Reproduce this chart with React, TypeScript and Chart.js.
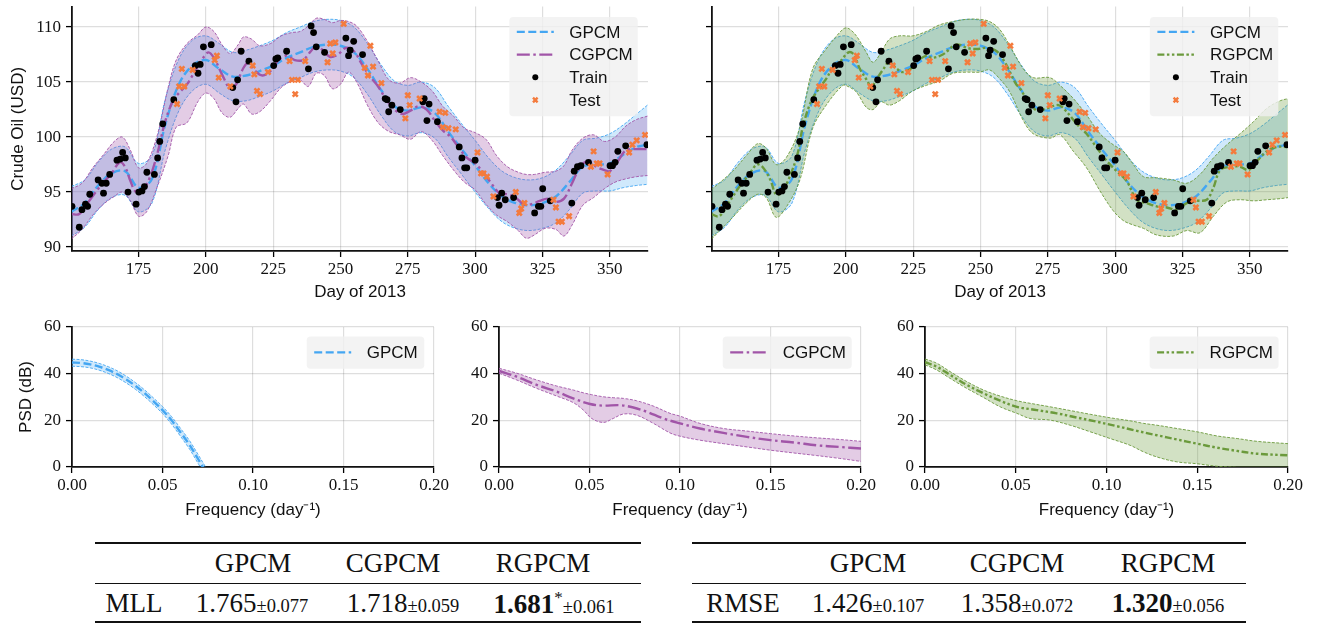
import React, { useEffect, useRef } from 'react';
import { Chart, registerables } from 'chart.js';

Chart.register(...registerables);

// ---------------- data ----------------
const trainDays = [150.3,153,154,155.3,156.1,156.9,160,161.4,162,163,164.3,167,168.2,169.1,170.1,171.1,174.1,175.1,176.3,177.2,178.1,180.9,182.1,182.9,184,188.1,196.1,197.1,197.9,199.1,202,210,211.2,211.8,213.1,216,225.2,226,226.7,230,238.1,239.1,240,241,244.1,252,253,253.6,254.9,258.2,266.6,267.3,267.9,269.1,272.2,280.6,281.1,282.1,282.9,286,294.1,295.1,296.1,296.9,300,308.3,308.9,309.9,311.2,314.3,322.1,323.5,324.4,325.1,327.9,335.9,336.8,338,339.3,342.1,350.1,351,352,353,355.9,363.8];
const trainPrices = [93.7,91.8,93.4,93.9,93.7,94.8,96.1,95.8,94.9,95.8,96.6,97.9,98.0,98.6,98.1,95.0,93.9,95.0,95.1,95.5,96.8,96.6,98.1,99.6,101.2,103.4,106.5,105.8,106.6,108.2,108.4,104.5,103.2,105.2,107.8,106.9,106.5,107.1,107.2,107.8,106.2,110.1,109.5,108.2,107.7,109.0,107.4,107.9,108.7,107.5,103.5,103.4,102.3,102.9,102.5,103.2,103.5,101.5,103.0,101.4,99.1,98.1,97.2,97.2,97.9,94.5,93.8,94.9,94.3,94.5,93.1,93.7,93.7,95.3,94.2,94.0,96.9,97.3,97.4,97.7,97.4,97.4,97.7,98.7,99.2,99.3];

const testDays = [189.3,190.1,191.1,192,195.1,203.3,204.1,204.8,209.1,217.4,218,219,220.1,223.1,231.1,232,233.2,234.2,236.9,245.2,246.2,247.1,248.1,251.2,259,260.2,261.1,262.1,265.2,274.1,275,275.7,279.4,286.8,288,288.9,290.1,292.8,300.9,302.2,303.1,304.4,306.8,315.1,316.4,317.1,318.3,329.1,330,331,332.2,334.9,343,344,345.2,346.2,349.2,357.2,358.4,360,363.1];
const testPrices = [103.0,104.6,106.2,104.6,106.1,107.0,107.4,105.4,104.6,106.5,105.7,104.2,103.9,105.9,106.9,105.2,103.9,105.2,106.9,106.8,108.5,107.6,108.6,110.3,106.3,105.6,108.3,106.4,104.9,101.7,103.8,102.9,103.5,102.3,100.9,102.2,100.8,100.7,98.6,96.7,96.7,96.4,94.6,95.0,93.1,93.5,94.0,94.3,93.6,92.3,92.3,92.8,97.3,98.7,97.6,97.6,96.6,98.6,99.3,99.7,100.2];

const gpcmDays = [150,155,160,165,170,175,180,185,190,195,200,205,210,215,220,225,230,235,240,245,250,255,260,265,270,275,280,285,290,295,300,305,310,315,320,325,330,335,340,345,350,355,360,364];
const gpcmMean = [93.2,94.0,95.6,96.7,96.9,95.4,96.2,101.2,104.8,106.5,107.0,106.2,105.5,105.6,106.0,106.5,107.2,107.7,108.2,108.4,108.3,107.7,106.2,104.3,102.8,102.4,102.7,102.2,100.5,98.9,97.4,95.8,94.6,94.0,93.8,94.0,94.6,95.9,97.3,97.5,97.6,98.4,99.1,99.3];
const gpcmUpper = [95.5,96.1,97.7,98.9,99.1,97.6,98.3,103.5,107.1,108.8,109.2,108.5,107.7,107.9,108.3,108.8,109.5,110.0,110.5,110.7,110.6,110.0,108.5,106.6,105.1,104.7,105.0,104.5,102.8,101.2,99.7,98.1,96.9,96.3,96.1,96.3,97.0,98.3,99.7,99.9,100.3,101.1,102.1,102.9];
const gpcmLower = [91.0,91.8,93.4,94.5,94.7,93.2,94.0,98.9,102.4,104.2,104.8,104.0,103.3,103.3,103.7,104.2,104.9,105.4,105.9,106.1,106.0,105.4,103.9,102.0,100.5,100.1,100.4,99.9,98.2,96.6,95.0,93.5,92.3,91.7,91.5,91.7,92.2,93.4,94.9,95.1,95.1,95.4,95.6,95.7];

const cgpcmDays = [150,153,157,161,165,168,170,172,174,176,179,182,185,188,190,193,196,199,201,203,206,209,211,214,216,218,221,224,227,230,233,236,239,241,243,246,249,252,255,258,261,264,267,270,273,276,279,282,285,288,291,294,297,300,303,306,309,312,315,318,321,324,327,330,333,336,339,342,345,348,350,353,356,360,364];
const cgpcmMean = [93.0,93.0,94.3,95.6,96.7,97.7,97.3,96.0,95.0,95.0,96.2,98.5,101.5,103.4,104.0,104.8,106.0,107.2,107.7,107.2,105.7,104.4,104.7,106.3,106.8,106.1,105.6,106.0,107.0,107.4,107.0,107.0,107.8,108.3,108.0,107.3,107.5,108.1,107.8,106.6,105.5,104.6,103.4,102.5,102.1,102.4,102.8,102.5,101.5,100.6,100.0,99.0,98.1,97.6,96.8,95.8,94.9,94.8,94.5,93.9,93.9,94.2,94.4,94.1,94.4,95.8,97.3,97.8,97.3,97.0,96.9,97.8,98.8,98.9,98.9];
const cgpcmBandDays = [150,154,158,162,166,169,172,175,178,182,186,189,193,197,200,203,206,209,212,214,217,220,224,228,232,235,238,241,244,247,250,253,256,260,264,268,272,276,280,284,288,292,296,300,304,308,312,316,319,322,326,330,333,336,340,344,348,352,356,360,364];
const cgpcmUpper = [95.3,95.8,97.2,98.4,99.6,100.0,98.8,97.2,97.6,100.2,104.5,107.0,108.5,109.3,110.0,109.6,108.4,107.6,108.4,109.1,108.9,108.3,108.5,109.2,109.5,109.6,110.1,110.8,110.7,110.4,110.6,110.5,110.1,108.7,106.9,105.2,104.9,105.4,105.0,104.2,102.8,101.9,100.8,100.4,99.8,98.3,97.3,96.8,96.6,96.6,96.8,96.9,97.4,98.8,99.9,100.2,99.6,100.0,101.0,101.6,101.9];
const cgpcmLower = [90.7,91.6,92.9,93.9,94.6,95.0,94.2,92.8,93.2,95.5,98.3,100.9,101.3,103.2,104.0,103.5,102.2,101.8,102.6,103.0,102.1,102.3,103.3,104.5,105.1,105.2,104.6,105.8,105.6,104.4,104.8,105.9,105.0,102.9,101.3,100.5,100.2,99.8,100.5,99.7,98.3,97.0,95.9,95.2,93.9,92.9,92.3,91.5,90.8,91.1,91.7,91.6,91.0,92.0,93.8,94.5,95.3,95.9,96.2,96.4,96.5];

const rgpcmDays = [150,153,157,160.5,164,167,169,172,174,176,178.5,182,184,187,190,193,195,198,201,203,205,208,209.5,211,214,216,219,221,224,226,230,232,236,240,242,245,248.5,252,256,259.5,263,265,267,271,274.5,279,282,285.7,289.4,293,297,300.6,304.3,308,311.7,315.4,319.2,322.9,326.6,330.3,334,336.5,339,342.7,346.4,349.5,352.6,356.3,360,364];
const rgpcmMean = [93.0,92.8,94.2,95.5,96.6,97.5,97.3,96.1,94.8,94.9,96.0,98.4,100.9,103.2,104.4,105.4,106.3,106.9,107.7,107.5,106.3,105.1,104.5,105.1,106.2,106.8,106.2,105.9,106.2,106.8,107.4,107.2,107.5,108.3,108.4,108.1,108.0,108.1,107.8,106.6,104.9,104.3,103.5,102.4,102.6,102.9,102.3,101.2,100.3,99.1,97.8,96.9,96.0,94.3,94.0,93.7,93.6,93.4,94.0,94.2,94.3,95.4,97.0,97.3,97.3,97.0,97.8,98.7,99.1,99.1];
const rgpcmBandDays = [150,158,163,167.3,170.4,174.1,177.8,182.8,187.7,192.7,198.9,200.8,203.9,207.6,210.1,213.1,216.2,219.9,224.9,229.9,234.8,239.8,244.7,249.7,253.4,257.1,260.9,265.9,269.6,275.8,279.5,284.5,289.4,294.4,299.3,303.1,306.8,310.5,315.4,321.6,326.6,331.5,336.5,341.5,346.4,351.4,356.3,361.3,364.4];
const rgpcmUpper = [95.2,96.9,98.3,99.4,99.0,97.5,98.1,100.8,106.2,108.0,109.8,109.9,109.2,107.7,106.8,107.7,108.9,109.2,109.2,109.6,110.2,110.5,110.7,110.7,110.5,109.8,108.3,106.2,105.4,105.4,104.7,103.5,102.0,100.3,99.3,98.7,97.5,96.4,96.3,96.1,95.8,96.6,98.1,99.3,100.3,101.4,102.6,103.3,103.5];
const rgpcmLower = [90.7,92.7,94.0,94.8,94.5,92.7,93.6,96.0,100.8,102.9,104.7,104.6,104.1,102.7,102.5,103.2,102.9,103.3,104.2,104.7,105.1,105.8,105.9,105.9,106.1,105.3,104.1,101.5,100.3,99.9,100.2,98.7,97.2,95.1,93.3,92.4,92.0,91.7,91.1,91.0,91.5,91.3,92.8,94.1,94.3,94.2,94.3,94.4,94.5];

const gpcmPsdFreq = [0,0.005,0.01,0.015,0.02,0.025,0.03,0.035,0.04,0.045,0.05,0.055,0.06,0.065,0.07,0.075];
const gpcmPsdMean = [44.8,44.6,44.0,43.0,41.6,39.8,37.5,34.8,31.7,28.2,24.4,20.0,14.8,9.4,3.0,-3.5];
const gpcmPsdUpper = [46.2,46.0,45.4,44.4,43.0,41.2,38.9,36.2,33.1,29.6,25.9,21.6,16.5,11.2,4.9,-1.6];
const gpcmPsdLower = [43.2,43.0,42.5,41.5,40.1,38.3,36.0,33.3,30.2,26.7,22.9,18.4,13.1,7.6,1.1,-5.4];

const cgpcmPsdFreq = [0,0.0098,0.0208,0.0319,0.041,0.0503,0.0576,0.0668,0.0742,0.0816,0.0908,0.1,0.111,0.124,0.137,0.15,0.163,0.1755,0.188,0.2];
const cgpcmPsdMean = [41.2,38.7,35.2,32.3,29.4,27.0,26.3,26.5,25.5,23.7,20.8,18.7,16.5,14.6,12.9,11.5,10.5,9.3,8.6,7.9];
const cgpcmPsdBandFreq = [0,0.0098,0.0208,0.0319,0.041,0.0466,0.0512,0.0576,0.0631,0.0687,0.076,0.0853,0.0945,0.1,0.111,0.124,0.137,0.15,0.163,0.1755,0.188,0.2];
const cgpcmPsdUpper = [42.3,40.2,37.3,34.7,33.0,31.8,31.0,30.1,29.7,29.4,28.4,26.1,23.0,21.8,18.7,16.5,15.4,14.3,13.3,12.5,11.8,11.0];
const cgpcmPsdLower = [40.2,37.3,33.7,30.4,27.6,24.4,20.8,19.1,20.8,22.7,22.2,18.7,14.6,13.2,11.5,10.0,8.6,7.2,6.0,4.9,3.7,2.4];

const rgpcmPsdFreq = [0,0.0064,0.0138,0.023,0.0322,0.0414,0.0506,0.0616,0.0726,0.0836,0.0947,0.1057,0.1167,0.1278,0.1388,0.1498,0.1608,0.1719,0.1829,0.2];
const rgpcmPsdMean = [44.9,43.0,39.5,35.2,31.6,28.4,25.8,24.4,23.0,21.2,19.4,17.5,15.5,13.6,11.8,10.0,8.3,6.9,5.7,5.0];
const rgpcmPsdBandFreq = [0,0.0064,0.0138,0.023,0.0322,0.0414,0.0506,0.0579,0.0689,0.08,0.091,0.102,0.113,0.1204,0.1278,0.1388,0.1498,0.161,0.172,0.1829,0.2];
const rgpcmPsdUpper = [46.3,44.5,40.9,36.6,33.0,30.4,28.4,27.3,25.8,24.2,22.6,21.1,19.8,18.7,17.9,16.5,15.1,13.3,12.2,11.0,10.0];
const rgpcmPsdLower = [43.8,41.6,38.0,33.7,29.8,25.8,23.0,20.8,20.1,17.9,15.1,12.2,9.3,6.5,4.3,2.2,1.4,0.3,-0.2,-0.3,-0.5];

const dayTicks = [175, 200, 225, 250, 275, 300, 325, 350];
const priceTicks = [90, 95, 100, 105, 110];
const freqTicks = [0, 0.05, 0.1, 0.15, 0.2];
const psdTicks = [0, 20, 40, 60];

const tableModels = ['GPCM', 'CGPCM', 'RGPCM'];
const mllMeans = ['1.765', '1.718', '1.681'];
const mllStds = ['0.077', '0.059', '0.061'];
const rmseMeans = ['1.426', '1.358', '1.320'];
const rmseStds = ['0.107', '0.072', '0.056'];

// ---------------- styles ----------------
const SANS = "'Liberation Sans', Arial, sans-serif";
const SERIF = "'Liberation Serif', 'Times New Roman', serif";
const BLUE = '#44a6f2';
const PURPLE = '#a155a8';
const GREEN = '#6b9a3c';
const ORANGE = '#f47b3d';
const BLUE_FILL = 'rgba(68,166,242,0.25)';
const PURPLE_FILL = 'rgba(161,85,168,0.3)';
const GREEN_FILL = 'rgba(107,154,60,0.3)';
const GRID = 'rgba(0,0,0,0.13)';
const DASH = [8, 3.5];
const DASHDOT = [13, 3.5, 2.5, 3.5];
const DASHDOTDOT = [7, 2.5, 2.5, 2.5, 2.5, 2.5];
const EDGE_DASH = [3, 1.5];

const pts = (xs: number[], ys: number[]) => xs.map((x, i) => ({ x, y: ys[i] }));

type LegendItem = { label: string; kind: 'line' | 'dot' | 'cross'; color: string; dash?: number[] };
type LegendBox = { width: number; height: number; right: number; top: number; first: number; gap: number };

function boxLegend(items: LegendItem[], box: LegendBox) {
  return {
    id: 'boxLegend',
    afterDraw(chart: any) {
      const { ctx, chartArea } = chart;
      const x0 = chartArea.right - box.right - box.width;
      const y0 = chartArea.top + box.top;
      ctx.save();
      ctx.fillStyle = 'rgba(240,240,240,0.82)';
      ctx.beginPath();
      ctx.roundRect(x0, y0, box.width, box.height, 4);
      ctx.fill();
      items.forEach((it, i) => {
        const cy = y0 + box.first + i * box.gap;
        const lx0 = x0 + 7.5;
        const lx1 = lx0 + 37;
        const cx = (lx0 + lx1) / 2;
        if (it.kind === 'line') {
          ctx.strokeStyle = it.color;
          ctx.lineWidth = 2.2;
          ctx.setLineDash(it.dash || []);
          ctx.beginPath();
          ctx.moveTo(lx0, cy);
          ctx.lineTo(lx1, cy);
          ctx.stroke();
          ctx.setLineDash([]);
        } else if (it.kind === 'dot') {
          ctx.fillStyle = it.color;
          ctx.beginPath();
          ctx.arc(cx, cy, 3, 0, Math.PI * 2);
          ctx.fill();
        } else {
          const r = 2.3;
          ctx.strokeStyle = it.color;
          ctx.lineWidth = 2.4;
          ctx.beginPath();
          ctx.moveTo(cx - r, cy - r);
          ctx.lineTo(cx + r, cy + r);
          ctx.moveTo(cx + r, cy - r);
          ctx.lineTo(cx - r, cy + r);
          ctx.stroke();
        }
        ctx.fillStyle = '#111';
        ctx.font = `17px ${SANS}`;
        ctx.textBaseline = 'middle';
        ctx.textAlign = 'left';
        ctx.fillText(it.label, x0 + 60, cy + 1);
      });
      ctx.restore();
    },
  };
}

function xAxis(min: number, max: number, ticks: number[], title: string, titlePad: number, height: number, fmt: (v: number) => string) {
  return {
    type: 'linear',
    position: 'bottom',
    min,
    max,
    afterBuildTicks: (s: any) => { s.ticks = ticks.map((v) => ({ value: v })); },
    afterFit: (s: any) => { s.height = height; s.paddingLeft = 0; s.paddingRight = 0; },
    ticks: { font: { family: SERIF, size: 17 }, color: '#111', padding: 2, maxRotation: 0, minRotation: 0, autoSkip: false, callback: (v: any) => fmt(Number(v)) },
    grid: { color: GRID, lineWidth: 1.2, tickLength: 6, tickColor: '#000', tickWidth: 1.3 },
    border: { display: true, color: '#111', width: 1.8 },
    title: { display: true, text: title, font: { family: SANS, size: 17 }, color: '#111', padding: { top: 0, bottom: titlePad } },
  };
}

function yAxis(min: number, max: number, ticks: number[], width: number, showLabels: boolean, title: string | null, titlePad: number) {
  return {
    type: 'linear',
    position: 'left',
    min,
    max,
    afterBuildTicks: (s: any) => { s.ticks = ticks.map((v) => ({ value: v })); },
    afterFit: (s: any) => { s.width = width; s.paddingTop = 0; s.paddingBottom = 0; },
    ticks: { display: showLabels, font: { family: SERIF, size: 17 }, color: '#111', padding: 5, autoSkip: false, callback: (v: any) => String(v) },
    grid: { color: GRID, lineWidth: 1.2, tickLength: 6, tickColor: '#000', tickWidth: 1.3 },
    border: { display: true, color: '#111', width: 1.8 },
    title: { display: !!title, text: title || '', font: { family: SANS, size: 17 }, color: '#111', padding: { top: titlePad, bottom: 0 } },
  };
}

function bandSets(xs: number[], lower: number[], upper: number[], color: string, fill: string, order: number) {
  return [
    { data: pts(xs, lower), borderColor: color, borderWidth: 0.9, borderDash: EDGE_DASH, pointRadius: 0, fill: false, tension: 0.35, order: order + 1 },
    { data: pts(xs, upper), borderColor: color, borderWidth: 0.9, borderDash: EDGE_DASH, pointRadius: 0, fill: '-1', backgroundColor: fill, tension: 0.35, order },
  ];
}

function meanSet(xs: number[], ys: number[], color: string, dash: number[], order: number) {
  return { data: pts(xs, ys), borderColor: color, borderWidth: 2.4, borderDash: dash, pointRadius: 0, fill: false, tension: 0.35, order };
}

function topConfig(which: 'C' | 'R', yWidth: number, padRight: number, showYLabels: boolean) {
  const m = which === 'C'
    ? { name: 'CGPCM', days: cgpcmDays, mean: cgpcmMean, band: cgpcmBandDays, up: cgpcmUpper, lo: cgpcmLower, color: PURPLE, fill: PURPLE_FILL, dash: DASHDOT }
    : { name: 'RGPCM', days: rgpcmDays, mean: rgpcmMean, band: rgpcmBandDays, up: rgpcmUpper, lo: rgpcmLower, color: GREEN, fill: GREEN_FILL, dash: DASHDOTDOT };
  const datasets: any[] = [
    ...bandSets(gpcmDays, gpcmLower, gpcmUpper, BLUE, BLUE_FILL, 8),
    ...bandSets(m.band, m.lo, m.up, m.color, m.fill, 6),
    meanSet(gpcmDays, gpcmMean, BLUE, DASH, 4),
    meanSet(m.days, m.mean, m.color, m.dash, 3),
    { data: pts(trainDays, trainPrices), showLine: false, pointStyle: 'circle', pointRadius: 3.4, pointBackgroundColor: '#000', pointBorderWidth: 0, borderColor: '#000', order: 1 },
    { data: pts(testDays, testPrices), showLine: false, pointStyle: 'crossRot', pointRadius: 3.6, pointBorderWidth: 2.6, pointBorderColor: ORANGE, pointBackgroundColor: ORANGE, borderColor: ORANGE, order: 0 },
  ];
  const legendItems: LegendItem[] = [
    { label: 'GPCM', kind: 'line', color: BLUE, dash: DASH },
    { label: m.name, kind: 'line', color: m.color, dash: m.dash },
    { label: 'Train', kind: 'dot', color: '#000' },
    { label: 'Test', kind: 'cross', color: ORANGE },
  ];
  return {
    type: 'line',
    data: { datasets },
    options: {
      responsive: false,
      maintainAspectRatio: false,
      animation: false,
      events: [],
      layout: { padding: { left: 0, right: padRight, top: 3, bottom: 0 } },
      plugins: { legend: { display: false }, tooltip: { enabled: false } },
      scales: {
        x: xAxis(150.3, 364.2, dayTicks, 'Day of 2013', 7.8, 59, (v) => String(v)),
        y: yAxis(89.64, 111.86, priceTicks, yWidth, showYLabels, showYLabels ? 'Crude Oil (USD)' : null, 8),
      },
    },
    plugins: [boxLegend(legendItems, { width: 128.4, height: 99.4, right: which === 'C' ? 10.3 : 9.7, top: 10.3, first: 15, gap: 22.7 })],
  };
}

function psdConfig(which: 'G' | 'C' | 'R', yWidth: number, padRight: number, showTitle: boolean, legendWidth: number, legendRight: number) {
  const m = which === 'G'
    ? { name: 'GPCM', f: gpcmPsdFreq, mean: gpcmPsdMean, bf: gpcmPsdFreq, up: gpcmPsdUpper, lo: gpcmPsdLower, color: BLUE, fill: BLUE_FILL, dash: DASH }
    : which === 'C'
    ? { name: 'CGPCM', f: cgpcmPsdFreq, mean: cgpcmPsdMean, bf: cgpcmPsdBandFreq, up: cgpcmPsdUpper, lo: cgpcmPsdLower, color: PURPLE, fill: PURPLE_FILL, dash: DASHDOT }
    : { name: 'RGPCM', f: rgpcmPsdFreq, mean: rgpcmPsdMean, bf: rgpcmPsdBandFreq, up: rgpcmPsdUpper, lo: rgpcmPsdLower, color: GREEN, fill: GREEN_FILL, dash: DASHDOTDOT };
  const datasets: any[] = [
    ...bandSets(m.bf, m.lo, m.up, m.color, m.fill, 2),
    meanSet(m.f, m.mean, m.color, m.dash, 1),
  ];
  return {
    type: 'line',
    data: { datasets },
    options: {
      responsive: false,
      maintainAspectRatio: false,
      animation: false,
      events: [],
      layout: { padding: { left: 0, right: padRight, top: 17, bottom: 0 } },
      plugins: { legend: { display: false }, tooltip: { enabled: false } },
      scales: {
        x: xAxis(0, 0.2, freqTicks, 'Frequency (day\u207B\u00B9)', 9.8, 63, (v) => v.toFixed(2)),
        y: yAxis(0, 60, psdTicks, yWidth, true, showTitle ? 'PSD (dB)' : null, 16.5),
      },
    },
    plugins: [boxLegend([{ label: m.name, kind: 'line', color: m.color, dash: m.dash }], { width: legendWidth, height: 32.3, right: legendRight, top: 9.4, first: 16, gap: 0 })],
  };
}

function ChartBox({ left, top, width, height, make }: { left: number; top: number; width: number; height: number; make: () => any }) {
  const ref = useRef<HTMLCanvasElement>(null);
  useEffect(() => {
    const chart = new Chart(ref.current as HTMLCanvasElement, make());
    return () => chart.destroy();
  }, []);
  return <canvas ref={ref} width={width} height={height} style={{ position: 'absolute', left, top, width, height }} />;
}

function Cell({ cx, cy, children }: { cx: number; cy: number; children: React.ReactNode }) {
  return (
    <div style={{ position: 'absolute', left: cx - 110, width: 220, top: cy - 20, height: 40, display: 'flex', alignItems: 'center', justifyContent: 'center', fontFamily: SERIF, fontSize: 27, color: '#111', whiteSpace: 'nowrap' }}>
      <div>{children}</div>
    </div>
  );
}

function Rule({ x0, x1, y, h }: { x0: number; x1: number; y: number; h: number }) {
  return <div style={{ position: 'absolute', left: x0, width: x1 - x0, top: y - h / 2, height: h, background: '#111' }} />;
}

function ResultTable({ x0, x1, rowLabel, headCols, valCols, labelX, means, stds, best, star }: { x0: number; x1: number; rowLabel: string; headCols: number[]; valCols: number[]; labelX: number; means: string[]; stds: string[]; best: number; star: boolean }) {
  return (
    <>
      <Rule x0={x0} x1={x1} y={543} h={1.6} />
      <Rule x0={x0} x1={x1} y={583.5} h={1} />
      <Rule x0={x0} x1={x1} y={622} h={1.6} />
      {tableModels.map((name, i) => (
        <Cell key={'h' + i} cx={headCols[i]} cy={563.5}>{name}</Cell>
      ))}
      <Cell cx={labelX} cy={603.5}>{rowLabel}</Cell>
      {means.map((v, i) => (
        <Cell key={'v' + i} cx={valCols[i]} cy={603.5}>
          {i === best ? <b>{v}</b> : <span>{v}</span>}
          {i === best && star ? <sup style={{ fontSize: 17 }}>*</sup> : null}
          <span style={{ fontSize: 18.5 }}>±{stds[i]}</span>
        </Cell>
      ))}
    </>
  );
}

export default function App() {
  return (
    <div style={{ position: 'absolute', left: 0, top: 0, width: 1320, height: 624, background: '#fff', overflow: 'hidden' }}>
      <ChartBox left={0} top={0} width={660} height={310} make={() => topConfig('C', 72, 12, true)} />
      <ChartBox left={660} top={0} width={660} height={310} make={() => topConfig('R', 52, 32, false)} />
      <ChartBox left={0} top={310} width={460} height={220} make={() => psdConfig('G', 72, 26, true, 117.6, 9.7)} />
      <ChartBox left={460} top={310} width={420} height={220} make={() => psdConfig('C', 39, 19, false, 129, 9.3)} />
      <ChartBox left={880} top={310} width={440} height={220} make={() => psdConfig('R', 45, 32, false, 129, 9.4)} />
      <ResultTable x0={95} x1={641} rowLabel="MLL" headCols={[253, 393, 543]} valCols={[252, 403, 554]} labelX={134} means={mllMeans} stds={mllStds} best={2} star={true} />
      <ResultTable x0={692} x1={1246} rowLabel="RMSE" headCols={[868, 1017, 1168]} valCols={[868, 1017, 1168]} labelX={743} means={rmseMeans} stds={rmseStds} best={2} star={false} />
    </div>
  );
}
